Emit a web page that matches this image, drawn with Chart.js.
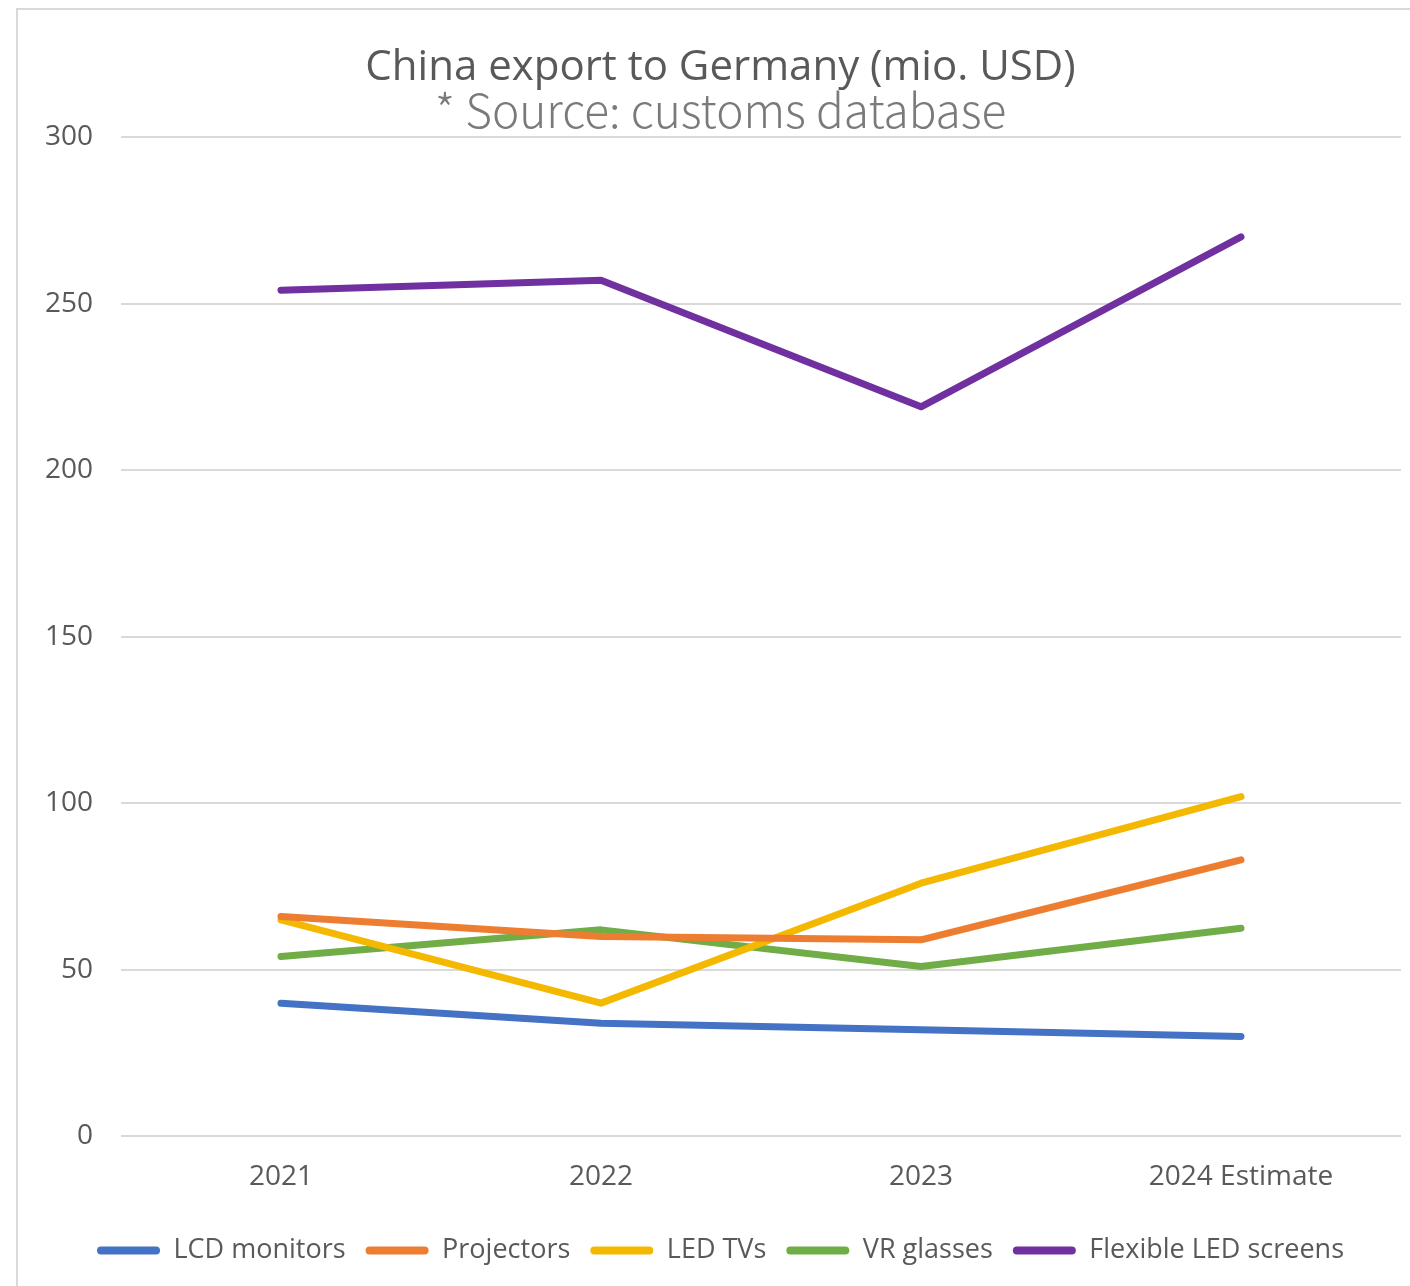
<!DOCTYPE html>
<html>
<head>
<meta charset="utf-8">
<script src="https://cdn.jsdelivr.net/npm/chart.js@4"></script>
<style>
  html, body { margin: 0; padding: 0; background: #fff; }
  #frame {
    position: absolute; left: 16px; top: 8px; width: 1394px; height: 1278px;
    border-left: 2px solid #d9d9d9; border-top: 2px solid #d9d9d9;
  }
  #wrap { position: absolute; left: 0; top: 0; width: 1392px; height: 1276px; }
</style>
</head>
<body>
<div id="frame"><div id="wrap"><canvas id="exportChart"></canvas></div></div>
<script>
const years = ['2021', '2022', '2023', '2024 Estimate'];
const lcdMonitors = [40, 34, 32, 30];
const projectors = [66, 60, 59, 83];
const ledTvs = [65, 40, 76, 102];
const vrGlasses = [54, 62, 51, 62.5];
const flexibleLed = [254, 257, 219, 270];
const yTicks = [0, 50, 100, 150, 200, 250, 300];

const textColor = '#595959';
const font = '"Open Sans", Lato, sans-serif';

function series(label, data, color) {
    return {
        label, data,
        borderColor: color,
        backgroundColor: color,
        borderWidth: 7,
        borderCapStyle: 'round',
        borderJoinStyle: 'round',
        tension: 0,
        pointRadius: 0,
        pointHoverRadius: 0
    };
}

const ctx = document.getElementById('exportChart');

new Chart(ctx, {
    type: 'line',
    data: {
        labels: years,
        datasets: [
            series('LCD monitors', lcdMonitors, '#4472C4'),
            series('Projectors', projectors, '#ED7D31'),
            series('LED TVs', ledTvs, '#F5B800'),
            series('VR glasses', vrGlasses, '#70AD47'),
            series('Flexible LED screens', flexibleLed, '#7030A0')
        ]
    },
    options: {
        responsive: true,
        maintainAspectRatio: false,
        animation: false,
        // left padding nudges the centred title/legend right, y axis still holds its labels
        layout: { padding: { left: 22, right: 9, top: 0, bottom: 12 } },
        plugins: {
            title: {
                display: true,
                text: 'China export to Germany (mio. USD)',
                color: textColor,
                font: { family: font, size: 42, weight: 'normal', lineHeight: 1.0 },
                padding: { top: 37, bottom: 3.6 }
            },
            subtitle: {
                display: true,
                text: '* Source: customs database',
                color: '#7a7a7a',
                font: { family: '"Noto Sans CJK SC", "Open Sans", sans-serif', size: 46, weight: 300, lineHeight: 0.8 },
                padding: { top: 0, bottom: 7.6 }
            },
            legend: {
                position: 'bottom',
                labels: {
                    color: textColor,
                    font: { family: font, size: 27 },
                    boxWidth: 63,
                    boxHeight: 8,
                    padding: 20,
                    useBorderRadius: true,
                    borderRadius: 4,
                    generateLabels(chart) {
                        return chart.data.datasets.map((ds, i) => ({
                            text: ds.label,
                            fillStyle: ds.borderColor,
                            strokeStyle: ds.borderColor,
                            lineWidth: 0,
                            fontColor: textColor,
                            datasetIndex: i,
                            borderRadius: 4,
                            hidden: !chart.isDatasetVisible(i)
                        }));
                    }
                }
            },
            tooltip: { enabled: false }
        },
        scales: {
            x: {
                offset: true,
                afterFit(scale) { scale.height -= 1; },
                grid: { display: false, drawTicks: false },
                border: { display: false },
                ticks: { color: textColor, font: { family: font, size: 28 }, padding: 24 }
            },
            y: {
                min: 0,
                max: 300,
                afterBuildTicks(scale) { scale.ticks = yTicks.map(v => ({ value: v })); },
                afterFit(scale) { scale.width = 81; scale.paddingTop = 0; scale.paddingBottom = 0; },
                grid: { color: '#d9d9d9', lineWidth: 2, drawTicks: false },
                border: { display: false },
                ticks: { color: textColor, font: { family: font, size: 28 }, padding: 28 }
            }
        }
    }
});
</script>
</body>
</html>
